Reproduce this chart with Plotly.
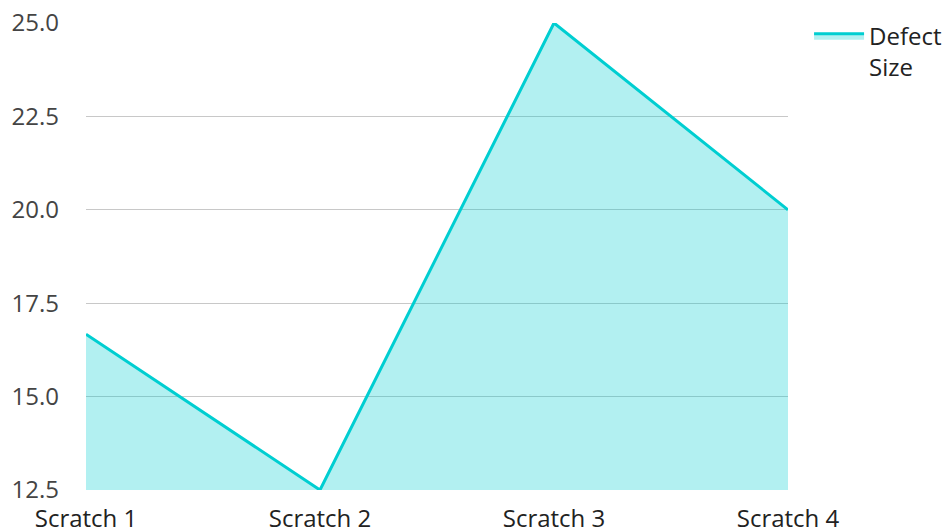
import plotly.graph_objects as go

categories = ["Scratch 1", "Scratch 2", "Scratch 3", "Scratch 4"]
defect_size = [16.67, 12.5, 25.0, 20.0]
series_name = "Defect<br>Size"
y_ticks = [12.5, 15.0, 17.5, 20.0, 22.5, 25.0]

fig = go.Figure()
fig.add_trace(go.Scatter(
    x=categories, y=defect_size, name=series_name, mode="lines",
    fill="tozeroy", line=dict(color="#00CED1", width=3),
    fillcolor="rgba(0,206,209,0.3)", showlegend=True,
))
fig.update_layout(
    width=942, height=524,
    margin=dict(l=78, r=162, t=15, b=42, autoexpand=False),
    paper_bgcolor="white", plot_bgcolor="white",
    font=dict(family="Open Sans", size=24, color="#444"),
    legend=dict(x=1.03, y=1.02, xanchor="left", yanchor="top", itemwidth=50,
                valign="top", font=dict(size=24, color="#222")),
    xaxis=dict(showgrid=False, zeroline=False, showline=False, ticks="",
               range=[0, 3], tickfont=dict(color="#222"), ticklabelstandoff=12,
               ticklabeloverflow="allow", automargin=False),
    yaxis=dict(range=[12.5, 25], tickvals=y_ticks, ticktext=[f"{v:.1f}" for v in y_ticks],
               showgrid=True, gridcolor="#c8c8c8", gridwidth=1, zeroline=False,
               ticks="", tickfont=dict(color="#444"), ticklabelstandoff=26,
               ticklabeloverflow="allow", automargin=False),
)
fig.write_html("out.html")
